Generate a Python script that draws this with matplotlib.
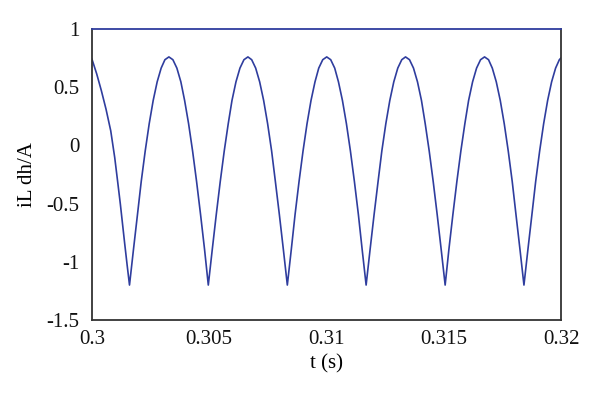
import matplotlib
matplotlib.use("Agg")
import matplotlib.pyplot as plt

plt.rcParams['font.family'] = ['Liberation Serif', 'DejaVu Serif']
plt.rcParams['axes.unicode_minus'] = False

# start-up segment
t_start = [0.30000, 0.30020, 0.30040, 0.30060, 0.30080, 0.30097, 0.30110,
           0.30121, 0.30139, 0.30150]
y_start = [0.74, 0.615, 0.47, 0.31, 0.125, -0.105, -0.32,
           -0.505, -0.835, -1.03]

# steady-state arches (cusp -> peak -> cusp)
t_arch1 = [0.30160, 0.30177, 0.30194, 0.30210, 0.30227, 0.30244, 0.30261,
           0.30278, 0.30295, 0.30311, 0.30328, 0.30345, 0.30362, 0.30379,
           0.30395, 0.30412, 0.30429, 0.30446, 0.30463, 0.30480]
t_arch2 = [0.30496, 0.30513, 0.30530, 0.30547, 0.30564, 0.30581, 0.30597,
           0.30614, 0.30631, 0.30648, 0.30665, 0.30681, 0.30698, 0.30715,
           0.30732, 0.30749, 0.30766, 0.30782, 0.30799, 0.30816]
t_arch3 = [0.30833, 0.30850, 0.30866, 0.30883, 0.30900, 0.30917, 0.30934,
           0.30951, 0.30967, 0.30984, 0.31001, 0.31018, 0.31035, 0.31051,
           0.31068, 0.31085, 0.31102, 0.31119, 0.31136, 0.31152]
t_arch4 = [0.31169, 0.31186, 0.31203, 0.31220, 0.31236, 0.31253, 0.31270,
           0.31287, 0.31304, 0.31321, 0.31337, 0.31354, 0.31371, 0.31388,
           0.31405, 0.31421, 0.31438, 0.31455, 0.31472, 0.31489]
t_arch5 = [0.31506, 0.31522, 0.31539, 0.31556, 0.31573, 0.31590, 0.31606,
           0.31623, 0.31640, 0.31657, 0.31674, 0.31691, 0.31707, 0.31724,
           0.31741, 0.31758, 0.31775, 0.31792, 0.31808, 0.31825]
y_arch = [-1.2, -0.893, -0.594, -0.310, -0.048, 0.186, 0.386, 0.546, 0.664,
          0.736, 0.76, 0.736, 0.664, 0.546, 0.386, 0.186, -0.048, -0.310,
          -0.594, -0.893]

# last partial arch up to the right edge
t_end = [0.31842, 0.31859, 0.31876, 0.31892, 0.31909, 0.31926, 0.31943,
         0.31960, 0.31977, 0.31993, 0.32000]
y_end = [-1.2, -0.893, -0.594, -0.310, -0.048, 0.186, 0.386,
         0.546, 0.664, 0.736, 0.751]

t = t_start + t_arch1 + t_arch2 + t_arch3 + t_arch4 + t_arch5 + t_end
y = y_start + y_arch * 5 + y_end

xticks = [0.3, 0.305, 0.31, 0.315, 0.32]
xticklabels = ["0.3", "0.305", "0.31", "0.315", "0.32"]
yticks = [-1.5, -1, -0.5, 0, 0.5, 1]
yticklabels = ["-1.5", "-1", "-0.5", "0", "0.5", "1"]

line_color = "#2f3d9e"

fig = plt.figure(figsize=(6.0, 3.97), dpi=100)
ax = fig.add_axes([0.1533, 0.194, 0.7817, 0.733])
ax.plot(t, y, color=line_color, lw=1.2)

ax.set_xlim(0.3, 0.32)
ax.set_ylim(-1.5, 1)
ax.set_xticks(xticks)
ax.set_xticklabels(xticklabels)
ax.set_yticks(yticks)
ax.set_yticklabels(yticklabels)
ax.tick_params(length=0, labelsize=15, colors="#111111")
ax.tick_params(axis="y", pad=9)
ax.tick_params(axis="x", pad=7)

for side in ["left", "bottom", "right"]:
    ax.spines[side].set_color("#333333")
    ax.spines[side].set_linewidth(1.3)
ax.spines["top"].set_color(line_color)
ax.spines["top"].set_linewidth(1.3)

ax.set_xlabel("t (s)", fontsize=15, labelpad=4)
ax.set_ylabel("iL dh/A", fontsize=15, labelpad=7)

fig.savefig("out.png", dpi=100)
